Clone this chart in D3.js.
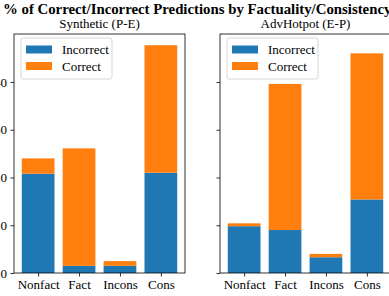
<!DOCTYPE html>
<html>
  <head>
    <title>Correct/Incorrect by Factuality</title>
    <script src="https://d3js.org/d3.v7.min.js"></script>
    <style>
      body { margin: 0; background: #fff; }
    </style>
  </head>
  <body>
    <svg width="389" height="296" id="mainsvg"></svg>
    <script>
      // data (percent of all predictions)
      const categories = ['Nonfact', 'Fact', 'Incons', 'Cons'];
      const panels = ['Synthetic (P-E)', 'AdvHotpot (E-P)'];
      const incorrectSynthetic = [20.8, 1.5, 1.5, 21.0];
      const correctSynthetic = [3.2, 24.6, 1.0, 26.7];
      const incorrectAdv = [9.8, 9.0, 3.3, 15.4];
      const correctAdv = [0.6, 30.6, 0.7, 30.6];
      const yTicks = [0, 10, 20, 30, 40];
      const seriesNames = ['Incorrect', 'Correct'];
      const colors = ['#1f77b4', '#ff7f0e'];

      const FONT = '"Liberation Serif"';

      const panelData = [
        {title: panels[0], inc: incorrectSynthetic, cor: correctSynthetic},
        {title: panels[1], inc: incorrectAdv, cor: correctAdv}
      ];

      const svg = d3.select('#mainsvg');
      const axW = 171, axTop = 34, axBottom = 273;
      const axLefts = [14, 220];

      svg.append('text').text('% of Correct/Incorrect Predictions by Factuality/Consistency')
        .attr('x', 3).attr('y', 14)
        .style('font-family', FONT).style('font-size', '14.8px').style('font-weight', 'bold');

      const yScale = d3.scaleLinear().domain([0, 50.05]).range([axBottom, axTop]);

      panelData.forEach((p, pi) => {
        const left = axLefts[pi];
        const xScale = d3.scaleLinear().domain([-0.59, 3.59]).range([left, left + axW]);
        const bw = xScale(0.8) - xScale(0);
        const g = svg.append('g');

        g.append('text').text(p.title)
          .attr('x', left + axW / 2).attr('y', 27.5).attr('text-anchor', 'middle')
          .style('font-family', FONT).style('font-size', '13px');

        const rows = categories.map((c, i) => ({i, inc: p.inc[i], cor: p.cor[i]}));

        g.selectAll('.inc').data(rows).join('rect').attr('class', 'inc')
          .attr('x', d => xScale(d.i) - bw / 2).attr('width', bw)
          .attr('y', d => yScale(d.inc)).attr('height', d => yScale(0) - yScale(d.inc))
          .attr('fill', colors[0]);

        g.selectAll('.cor').data(rows).join('rect').attr('class', 'cor')
          .attr('x', d => xScale(d.i) - bw / 2).attr('width', bw)
          .attr('y', d => yScale(d.inc + d.cor)).attr('height', d => yScale(d.inc) - yScale(d.inc + d.cor))
          .attr('fill', colors[1]);

        // y axis (only the left panel shows labels)
        const yAxis = d3.axisLeft(yScale).tickValues(yTicks).tickSize(3.5).tickPadding(3.5)
          .tickFormat(pi === 0 ? d3.format('d') : () => '');
        const ya = g.append('g').attr('transform', `translate(${left},0)`).call(yAxis);
        ya.attr('font-family', null);
        ya.select('.domain').remove();
        ya.selectAll('.tick line').attr('stroke', '#000').attr('stroke-width', 0.8);
        ya.selectAll('.tick text').style('font-family', FONT).style('font-size', '13px');

        // x axis
        const xAxis = d3.axisBottom(xScale).tickValues(d3.range(categories.length))
          .tickFormat(i => categories[i]).tickSize(3.5).tickPadding(3.5);
        const xa = g.append('g').attr('transform', `translate(0,${axBottom})`).call(xAxis);
        xa.attr('font-family', null);
        xa.select('.domain').remove();
        xa.selectAll('.tick line').attr('stroke', '#000').attr('stroke-width', 0.8);
        xa.selectAll('.tick text').style('font-family', FONT).style('font-size', '13px');

        // frame
        g.append('rect').attr('x', left).attr('y', axTop)
          .attr('width', axW).attr('height', axBottom - axTop)
          .attr('fill', 'none').attr('stroke', '#000').attr('stroke-width', 0.8);

        // legend
        const lg = g.append('g').attr('transform', `translate(${left + 7},${axTop + 4})`);
        lg.append('rect').attr('width', 91).attr('height', 41).attr('rx', 2)
          .attr('fill', 'rgba(255,255,255,0.8)').attr('stroke', '#ccc').attr('stroke-width', 0.8);
        seriesNames.forEach((s, si) => {
          lg.append('rect').attr('x', 5).attr('y', 7.5 + si * 16.5)
            .attr('width', 26).attr('height', 8).attr('fill', colors[si]);
          lg.append('text').text(s).attr('x', 41).attr('y', 16 + si * 16.5)
            .style('font-family', FONT).style('font-size', '13px');
        });
      });
    </script>
  </body>
</html>
